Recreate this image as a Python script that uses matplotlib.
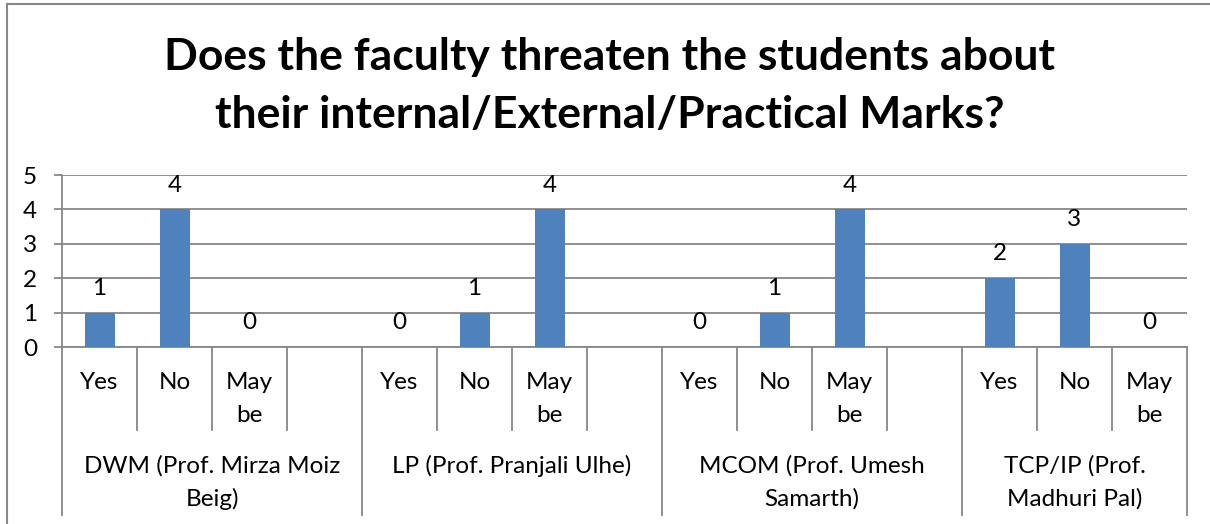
import matplotlib.pyplot as plt
from matplotlib.lines import Line2D
from matplotlib.transforms import blended_transform_factory

# data
groups = ["DWM (Prof. Mirza Moiz\nBeig)", "LP (Prof. Pranjali Ulhe)",
          "MCOM (Prof. Umesh\nSamarth)", "TCP/IP (Prof.\nMadhuri Pal)"]
answers = ["Yes", "No", "May\nbe"]
dwm = [1, 4, 0]
lp = [0, 1, 4]
mcom = [0, 1, 4]
tcp = [2, 3, 0]
title = "Does the faculty threaten the students about\ntheir internal/External/Practical Marks?"

series = [dwm, lp, mcom, tcp]
W, H = 1210, 524
GRAY = "#878787"
BLUE = "#4F81BD"
FONT = "Lato"

plt.rcParams["font.family"] = FONT

fig = plt.figure(figsize=(W / 100, H / 100), dpi=100)
ax = fig.add_axes([62 / W, 1 - 347 / H, 1125 / W, 172 / H])

# one slot per answer plus a blank slot between groups
xs, vals = [], []
for g, vs in enumerate(series):
    for i, v in enumerate(vs):
        xs.append(4 * g + i)
        vals.append(v)
n_slots = 4 * (len(groups) - 1) + len(answers)

ax.bar(xs, vals, width=0.4, color=BLUE, zorder=3)
for x, v in zip(xs, vals):
    ax.annotate(str(v), (x, v), xytext=(0, 10), textcoords="offset points",
                ha="center", va="bottom", fontsize=17.5, color="black")

ax.set_xlim(-0.5, n_slots - 0.5)
ax.set_ylim(0, 5)
ax.set_yticks(range(6))
ax.yaxis.grid(True, color=GRAY, lw=1.3, zorder=0)
ax.tick_params(axis="y", length=6, width=1.3, color=GRAY, labelsize=17.5, pad=12)
ax.set_xticks([])
for s in ["top", "right"]:
    ax.spines[s].set_visible(False)
for s in ["left", "bottom"]:
    ax.spines[s].set_color(GRAY)
    ax.spines[s].set_linewidth(1.3)

trans = blended_transform_factory(ax.transData, ax.transAxes)


def fy(py):
    return (347 - py) / 172


# category dividers: short inside groups, long at group edges
for k in range(n_slots + 1):
    xd = k - 0.5
    long_line = (k % 4 == 0) or k == n_slots
    y_end = fy(515) if long_line else fy(430)
    ax.add_line(Line2D([xd, xd], [0, y_end], transform=trans, color=GRAY,
                       lw=1.3, clip_on=False))

# answer labels
for g in range(len(groups)):
    for i, a in enumerate(answers):
        for j, line in enumerate(a.split("\n")):
            ax.text(4 * g + i, fy(389 + 33 * j), line, transform=trans,
                    ha="center", va="baseline", fontsize=17.5)

# group labels
for g, name in enumerate(groups):
    cx = 4 * g + 1.5
    if g == len(groups) - 1:
        cx = 4 * g + 1
    for j, line in enumerate(name.split("\n")):
        ax.text(cx, fy(473 + 33 * j), line, transform=trans,
                ha="center", va="baseline", fontsize=17.5)

# title
for j, line in enumerate(title.split("\n")):
    fig.text(610 / W, 1 - (70 + 58 * j) / H, line, ha="center", va="baseline",
             fontsize=32, fontweight="bold")

# chart border (right and bottom edges fall outside the picture)
fig.add_artist(Line2D([7 / W, 7 / W], [0, 1 - 4 / H], transform=fig.transFigure,
                      color=GRAY, lw=1.5))
fig.add_artist(Line2D([7 / W, 1], [1 - 4 / H, 1 - 4 / H], transform=fig.transFigure,
                      color=GRAY, lw=1.5))

fig.savefig("out.png", dpi=100, facecolor="white")
